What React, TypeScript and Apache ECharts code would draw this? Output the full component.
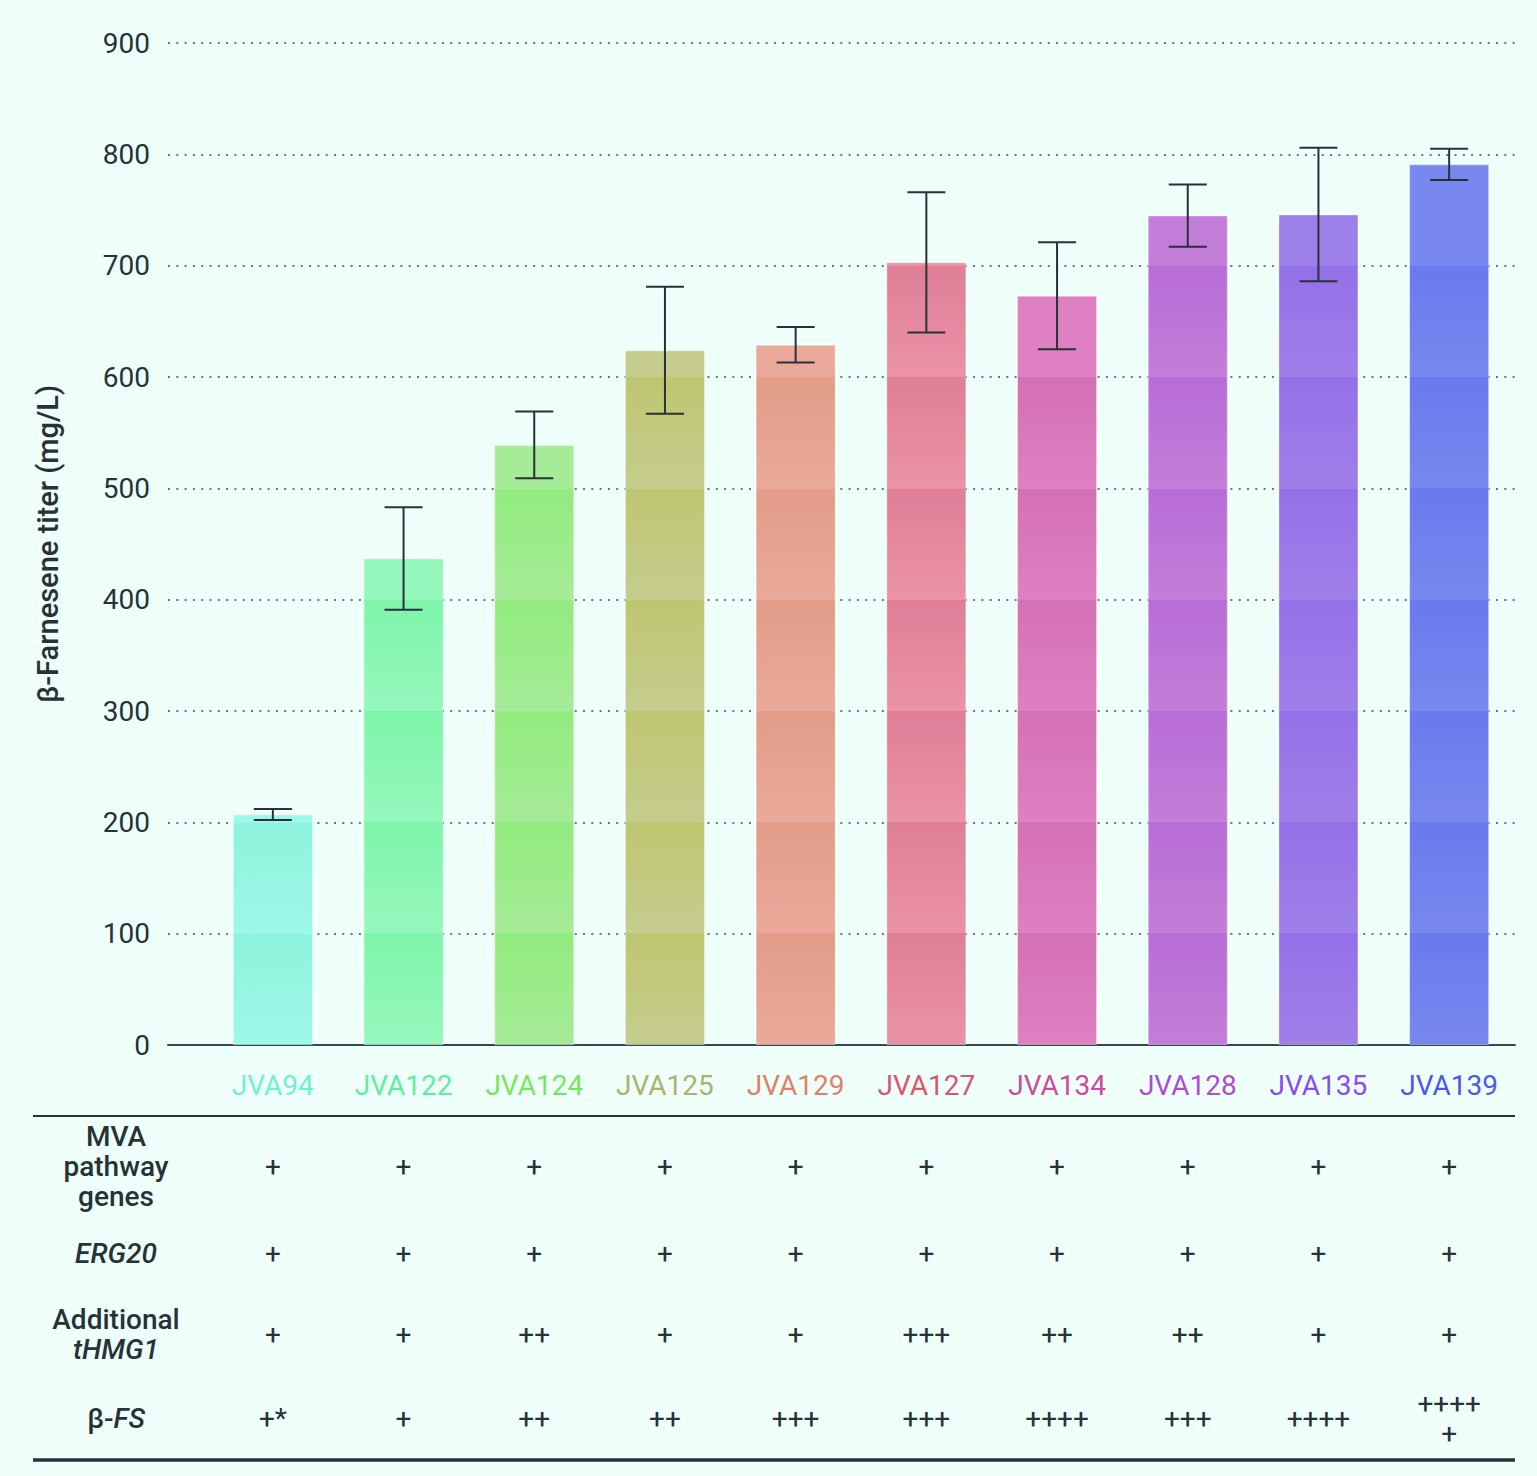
import { useEffect, useRef } from 'react'
import * as echarts from 'echarts'

const W = 1537
const H = 1476

// 菌株
const strains = ['JVA94', 'JVA122', 'JVA124', 'JVA125', 'JVA129', 'JVA127', 'JVA134', 'JVA128', 'JVA135', 'JVA139']
// β-法尼烯产量 (mg/L) 与误差
const titers = [207, 437, 539, 624, 629, 703, 673, 745, 746, 791]
const errors = [5, 46, 30, 57, 16, 63, 48, 28, 60, 14]
const labelColors = ['#6cf2d2', '#5cf09e', '#74e85c', '#a9b46c', '#e08068', '#d9566f', '#cc4b9f', '#b04ad6', '#8b4af2', '#4a58f2']
const barDark = ['#8ef3dc', '#7ef5aa', '#92ec7e', '#bec670', '#e29c88', '#e07e98', '#d470b4', '#b86cd6', '#9470e8', '#6a7aee']
const barLight = ['#9cf8e8', '#96f7bc', '#a6eb98', '#c6cc8e', '#eaa99a', '#ea92a8', '#de80c2', '#c27ed8', '#9e80ea', '#7888ee']

// 表格行
const rowLabels = ['{b|MVA}\n{b|pathway}\n{b|genes}', '{bi|ERG20}', '{b|Additional}\n{bi|tHMG1}', '{b|β-}{bi|FS}']
const mvaGenes = ['+', '+', '+', '+', '+', '+', '+', '+', '+', '+']
const erg20 = ['+', '+', '+', '+', '+', '+', '+', '+', '+', '+']
const tHMG1 = ['+', '+', '++', '+', '+', '+++', '++', '++', '+', '+']
const betaFS = ['+*', '+', '++', '++', '+++', '+++', '++++', '+++', '++++', '++++\n+']
const tableRows = [mvaGenes, erg20, tHMG1, betaFS]

const yMax = 900
const yStep = 100
const BG = '#effffa'
const INK = '#263238'
const FONT = 'Roboto'

const plotTop = 43
const plotBottom = 1045
const rowY = [1166, 1253, 1334, 1418]

// 每 100 一段的条纹渐变:段顶深,往下渐浅
function bandGradient(dark: string, light: string, v: number) {
  const stops: { offset: number; color: string }[] = [{ offset: 0, color: light }]
  const top = Math.floor((v - 1e-6) / yStep) * yStep
  for (let L = top; L >= yStep; L -= yStep) {
    const o = (v - L) / v
    const next = Math.min(1, (v - (L - yStep)) / v)
    stops.push({ offset: o, color: light })
    stops.push({ offset: o, color: dark })
    stops.push({ offset: next, color: light })
  }
  stops.push({ offset: 1, color: light })
  return new echarts.graphic.LinearGradient(0, 0, 0, 1, stops)
}

export default function App() {
  const chartRef = useRef<HTMLDivElement>(null)

  useEffect(() => {
    if (!chartRef.current) return
    const chart = echarts.init(chartRef.current, null, { renderer: 'svg' })

    const tableAxes = tableRows.map((row, r) => ({
      type: 'category' as const,
      gridIndex: 1,
      position: 'bottom' as const,
      offset: rowY[r] - plotBottom,
      data: strains,
      axisLine: { show: false },
      axisTick: { show: false },
      axisLabel: {
        margin: 0,
        interval: 0,
        verticalAlign: 'middle' as const,
        fontSize: 28,
        lineHeight: 30,
        fontFamily: FONT,
        color: INK,
        formatter: (_v: string, i: number) => row[i]
      }
    }))

    const option: any = {
      animation: false,
      backgroundColor: BG,
      textStyle: { fontFamily: FONT },
      grid: [
        { left: 168, right: 22, top: plotTop, bottom: H - plotBottom },
        { left: 207.5, right: 22.5, top: plotTop, bottom: H - plotBottom }
      ],
      xAxis: [
        {
          type: 'value',
          gridIndex: 0,
          min: 0,
          max: 1,
          axisLine: { show: true, onZero: false, lineStyle: { color: '#37474f', width: 2 } },
          axisTick: { show: false },
          axisLabel: { show: false },
          splitLine: { show: false }
        },
        {
          type: 'category',
          gridIndex: 1,
          data: strains,
          axisLine: { show: false },
          axisTick: { show: false },
          axisLabel: {
            interval: 0,
            margin: 26,
            fontSize: 28,
            fontFamily: FONT,
            color: (_v: string, i: number) => labelColors[i]
          }
        },
        ...tableAxes
      ],
      yAxis: [
        {
          type: 'value',
          gridIndex: 0,
          min: 0,
          max: yMax,
          interval: yStep,
          name: 'β-Farnesene titer (mg/L)',
          nameLocation: 'middle',
          nameGap: 106,
          nameRotate: 90,
          nameTextStyle: { fontSize: 29, fontWeight: 500, color: INK, fontFamily: FONT },
          axisLine: { show: false },
          axisTick: { show: false },
          axisLabel: { margin: 18, fontSize: 28, color: INK, fontFamily: FONT },
          splitLine: { lineStyle: { color: '#5f7a80', width: 2, type: [2, 6.3] } }
        },
        { type: 'value', gridIndex: 1, min: 0, max: yMax, show: false, splitLine: { show: false } }
      ],
      series: [
        {
          type: 'bar',
          xAxisIndex: 1,
          yAxisIndex: 1,
          barWidth: 80,
          data: titers.map((v, i) => ({
            value: v,
            itemStyle: {
              color: bandGradient(barDark[i], barLight[i], v),
              borderColor: 'rgba(255,255,255,0.35)',
              borderWidth: 1
            }
          }))
        },
        {
          type: 'custom',
          xAxisIndex: 1,
          yAxisIndex: 1,
          z: 5,
          data: titers.map((v, i) => [i, v - errors[i], v + errors[i]]),
          renderItem: (_p: any, api: any) => {
            const lo = api.coord([api.value(0), api.value(1)])
            const hi = api.coord([api.value(0), api.value(2)])
            const hw = 19
            const style = { stroke: INK, lineWidth: 2 }
            return {
              type: 'group',
              children: [
                { type: 'line', shape: { x1: hi[0], y1: hi[1], x2: lo[0], y2: lo[1] }, style },
                { type: 'line', shape: { x1: hi[0] - hw, y1: hi[1], x2: hi[0] + hw, y2: hi[1] }, style },
                { type: 'line', shape: { x1: lo[0] - hw, y1: lo[1], x2: lo[0] + hw, y2: lo[1] }, style }
              ]
            }
          }
        }
      ],
      graphic: [
        { type: 'line', shape: { x1: 33, y1: 1116, x2: 1515, y2: 1116 }, style: { stroke: INK, lineWidth: 2 } },
        { type: 'line', shape: { x1: 33, y1: 1460, x2: 1515, y2: 1460 }, style: { stroke: INK, lineWidth: 3.5 } },
        ...rowLabels.map((t, r) => ({
          type: 'text',
          x: 116,
          y: rowY[r],
          style: {
            text: t,
            align: 'center',
            verticalAlign: 'middle',
            fill: INK,
            fontFamily: FONT,
            rich: {
              b: { fontSize: 28, fontWeight: 500, fontFamily: FONT, fill: INK, lineHeight: 30 },
              bi: { fontSize: 28, fontWeight: 500, fontStyle: 'italic', fontFamily: FONT, fill: INK, lineHeight: 30 }
            }
          }
        }))
      ]
    }

    chart.setOption(option)

    return () => {
      chart.dispose()
    }
  }, [])

  return (
    <div style={{ position: 'fixed', left: 0, top: 0, width: W, height: H, background: BG }}>
      <div ref={chartRef} style={{ width: W, height: H }} />
    </div>
  )
}
